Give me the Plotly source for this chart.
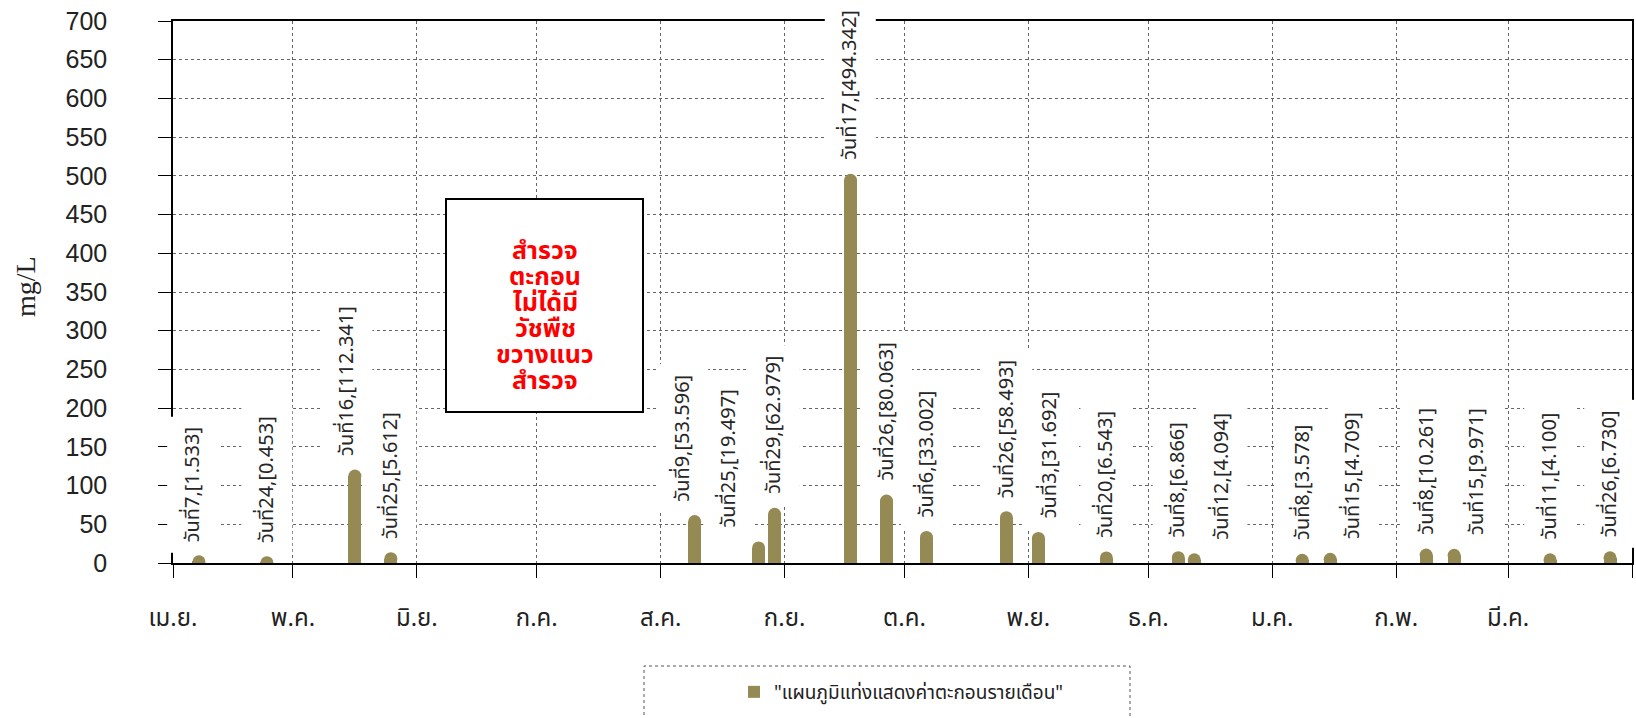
import pandas as pd
import plotly.graph_objects as go

# ---- data ----
dates = ["2022-04-07", "2022-04-24", "2022-05-16", "2022-05-25",
         "2022-08-09", "2022-08-25", "2022-08-29", "2022-09-17",
         "2022-09-26", "2022-10-06", "2022-10-26", "2022-11-03",
         "2022-11-20", "2022-12-08", "2022-12-12", "2023-01-08",
         "2023-01-15", "2023-02-08", "2023-02-15", "2023-03-11",
         "2023-03-26"]
values = [1.533, 0.453, 112.341, 5.612,
          53.596, 19.497, 62.979, 494.342,
          80.063, 33.002, 58.493, 31.692,
          6.543, 6.866, 4.094, 3.578,
          4.709, 10.261, 9.971, 4.100,
          6.730]
month_ticks = ["2022-04-01", "2022-05-01", "2022-06-01", "2022-07-01",
               "2022-08-01", "2022-09-01", "2022-10-01", "2022-11-01",
               "2022-12-01", "2023-01-01", "2023-02-01", "2023-03-01",
               "2023-04-01"]
month_labels = ["เม.ย.", "พ.ค.", "มิ.ย.", "ก.ค.", "ส.ค.", "ก.ย.", "ต.ค.",
                "พ.ย.", "ธ.ค.", "ม.ค.", "ก.พ.", "มี.ค.", ""]
series_name = '"แผนภูมิแท่งแสดงค่าตะกอนรายเดือน"'
note_lines = ["สำรวจ", "ตะกอน", "ไม่ได้มี", "วัชพืช", "ขวางแนว", "สำรวจ"]
y_title = "mg/L"

# label nudges (px) to avoid overlaps, keyed by date
label_xshift = {"2022-04-07": -6, "2022-05-16": -8, "2022-08-09": -12,
                "2022-08-25": -30, "2022-11-03": 12, "2022-12-12": 28,
                "2023-01-15": 23, "2023-02-15": 23}

BAR = "#968A54"
DAY_MS = 86400000
THAI = "Noto Sans Thai, Loma, Garuda, Tahoma, Noto Sans, DejaVu Sans, sans-serif"
NUM = "Liberation Sans, Arial, sans-serif"

# plot-area geometry (px) used to place paper-referenced decorations
W, H = 1636, 718
L, R, T, B = 173, 4, 21, 155
PW, PH = W - L - R, H - T - B


def px_x(px):
    return (px - L) / PW


def px_y(py):
    return (H - B - py) / PH


fig = go.Figure()
fig.add_trace(go.Bar(
    x=dates, y=values, name=series_name,
    xperiod=DAY_MS, xperiodalignment="middle",
    width=3.25 * DAY_MS, marker=dict(color=BAR, line=dict(width=0)),
    showlegend=True,
))
fig.add_trace(go.Scatter(
    x=dates, y=values, mode="markers",
    xperiod=DAY_MS, xperiodalignment="middle",
    marker=dict(color=BAR, size=13, line=dict(width=0)),
    showlegend=False, hoverinfo="skip", cliponaxis=True,
))

annotations = []
for d, v in zip(dates, values):
    ts = pd.Timestamp(d) + pd.Timedelta(hours=12)
    annotations.append(dict(
        x=ts.strftime("%Y-%m-%d %H:%M"), y=v, xref="x", yref="y",
        text=f"วันที่{pd.Timestamp(d).day},[{v:.3f}]",
        showarrow=False, textangle=-90, yanchor="bottom", xanchor="center",
        yshift=9, xshift=label_xshift.get(d, 0),
        bgcolor="white", borderpad=10,
        font=dict(family=THAI, size=20, color="#262626"),
    ))

for i, t in enumerate(note_lines):
    annotations.append(dict(
        x=px_x(545), y=px_y(251 + 26 * i), xref="paper", yref="paper",
        text=f"<b>{t}</b>", showarrow=False, xanchor="center", yanchor="middle",
        font=dict(family=THAI, size=25, color="red"),
    ))

annotations.append(dict(
    x=px_x(25), y=px_y(287), xref="paper", yref="paper",
    text=y_title, showarrow=False, textangle=-90, xanchor="center", yanchor="middle",
    font=dict(family="Liberation Serif, DejaVu Serif, serif", size=28, color="#222"),
))

shapes = [
    dict(type="rect", xref="paper", yref="paper",
         x0=px_x(446), x1=px_x(643), y0=px_y(412), y1=px_y(199),
         line=dict(color="black", width=2), fillcolor="white", layer="above"),
    dict(type="rect", xref="paper", yref="paper",
         x0=px_x(644), x1=px_x(1130), y0=px_y(740), y1=px_y(666),
         line=dict(color="#555", width=1, dash="dot"), fillcolor="rgba(0,0,0,0)"),
]

fig.update_layout(
    width=W, height=H,
    margin=dict(l=L, r=R, t=T, b=B, autoexpand=False),
    paper_bgcolor="white", plot_bgcolor="white",
    font=dict(family=THAI, color="#222"),
    bargap=0,
    showlegend=True,
    legend=dict(x=px_x(734), y=px_y(692), xanchor="left", yanchor="middle",
                orientation="h", bgcolor="rgba(0,0,0,0)",
                font=dict(family=THAI, size=19, color="#222")),
    xaxis=dict(type="date", range=["2022-04-01", "2023-04-01"], automargin=False,
               tickmode="array", tickvals=month_ticks, ticktext=month_labels,
               ticks="outside", ticklen=13, tickcolor="black", tickwidth=1,
               showline=True, linecolor="black", linewidth=1.5, mirror=True,
               showgrid=True, gridcolor="#666", griddash="dot", gridwidth=1,
               tickfont=dict(family=THAI, size=24, color="#222"),
               ticklabelstandoff=19, zeroline=False),
    yaxis=dict(range=[0, 700], tickmode="linear", tick0=0, dtick=50, automargin=False,
               ticks="outside", ticklen=13, tickcolor="black", tickwidth=1,
               showline=True, linecolor="black", linewidth=1.5, mirror=True,
               showgrid=True, gridcolor="#666", griddash="dot", gridwidth=1,
               tickfont=dict(family=NUM, size=25, color="#222"),
               ticklabelstandoff=46, zeroline=False),
    annotations=annotations, shapes=shapes,
)

fig.write_html("out.html", config={"displayModeBar": False},
               post_script="document.body.style.margin='0px';")
